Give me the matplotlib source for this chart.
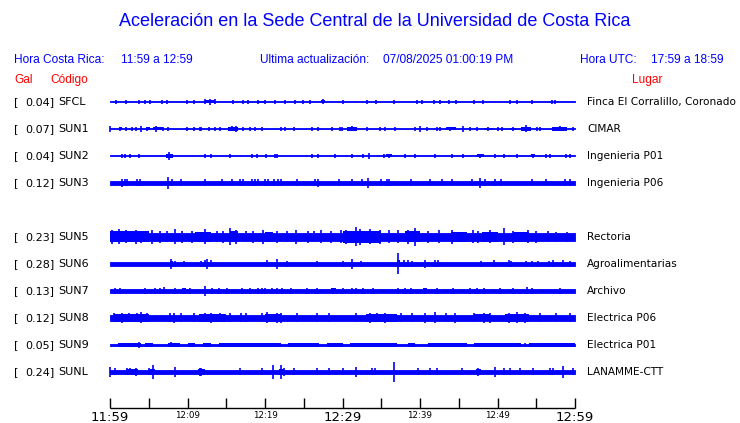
import matplotlib
matplotlib.use("Agg")
import matplotlib.pyplot as plt

# ---------------- data ----------------
title = "Aceleración en la Sede Central de la Universidad de Costa Rica"
hora_cr_lbl, hora_cr_val = "Hora Costa Rica:", "11:59 a 12:59"
ultima_lbl, ultima_val = "Ultima actualización:", "07/08/2025 01:00:19 PM"
hora_utc_lbl, hora_utc_val = "Hora UTC:", "17:59 a 18:59"

codes = ["SFCL", "SUN1", "SUN2", "SUN3", "SUN5", "SUN6", "SUN7", "SUN8", "SUN9", "SUNL"]
gal = ["0.04", "0.07", "0.04", "0.12", "0.23", "0.28", "0.13", "0.12", "0.05", "0.24"]
places = ["Finca El Corralillo, Coronado", "CIMAR", "Ingenieria P01", "Ingenieria P06",
          "Rectoria", "Agroalimentarias", "Archivo", "Electrica P06", "Electrica P01", "LANAMME-CTT"]
slots = [0, 1, 2, 3, 5, 6, 7, 8, 9, 10]   # row index (row 4 = SUN4, empty)

# trace half-width (screen px) of the background noise band
base_amp = [0.5, 0.5, 0.5, 2.0, 4.0, 2.0, 1.8, 2.7, 0.8, 2.2]

# spikes: (minute after 11:59, half amplitude in px)
spikes = {
    "SFCL": [(0.8, 2), (2.0, 2), (3.8, 2), (4.5, 2), (5.2, 2), (6.7, 2), (7.3, 2), (9.9, 2.2),
             (10.9, 2.2), (12.3, 2.5), (12.9, 3), (13.5, 2.5), (15.9, 2.2), (17.2, 2.2), (17.8, 2),
             (19.1, 2.2), (20.0, 2.2), (21.3, 2.2), (22.6, 2), (23.9, 2), (24.9, 2), (25.8, 2),
             (27.5, 2.5), (30.1, 2), (33.1, 2), (34.3, 2), (36.7, 2), (39.6, 2.2), (40.3, 2.2),
             (41.8, 2), (42.6, 2), (43.8, 2), (44.7, 2.2), (47.0, 2.2), (48.1, 2), (51.6, 2),
             (52.5, 2), (54.4, 2), (57.0, 2.2), (57.4, 2)],
    "SUN1": [(0.0, 3), (1.3, 2.2), (2.0, 2), (2.8, 2), (3.4, 2), (4.0, 3), (4.8, 2.2), (5.9, 3),
             (6.9, 2.2), (7.5, 2), (9.9, 2.2), (10.8, 2), (11.6, 2), (11.8, 2), (12.8, 2.2),
             (13.5, 2), (14.2, 2), (15.8, 2.5), (16.3, 3), (17.2, 2), (18.1, 2), (18.7, 2),
             (19.6, 2), (22.0, 2.2), (22.6, 2), (23.7, 2), (26.0, 2), (26.9, 2), (28.6, 2),
             (29.7, 2), (29.9, 2), (31.2, 2.5), (33.1, 2), (34.8, 2), (35.5, 2), (36.8, 2),
             (39.4, 2), (40.0, 3), (40.9, 2), (42.2, 2), (42.6, 2), (43.9, 2.2), (45.5, 3),
             (46.5, 2), (47.3, 2), (48.8, 2.2), (50.0, 2), (50.6, 2), (52.0, 2.2), (53.7, 3.5),
             (55.1, 2), (55.5, 2), (58.0, 2.5), (59.8, 2)],
    "SUN2": [(1.6, 2), (1.9, 2), (2.6, 1.8), (3.8, 2), (7.6, 4), (12.3, 2), (13.0, 2), (15.5, 1.8),
             (18.3, 2), (19.0, 1.8), (20.1, 2), (21.3, 1.8), (21.6, 1.8), (26.0, 2), (26.9, 2),
             (29.0, 1.8), (31.2, 1.8), (32.6, 1.8), (33.4, 3), (35.4, 1.8), (36.0, 2.2), (38.1, 2),
             (39.4, 1.8), (41.9, 2), (44.1, 1.8), (45.6, 1.8), (47.8, 2.2), (49.7, 2), (50.8, 1.8),
             (52.5, 1.8), (54.6, 2.2), (56.3, 2), (56.8, 2), (58.9, 2), (59.3, 2)],
    "SUN3": [(1.6, 4), (1.9, 3.5), (2.2, 3.5), (3.5, 3.5), (3.9, 3.5), (7.5, 6), (8.0, 3.5),
             (9.2, 3.5), (12.3, 3.5), (14.4, 3.5), (15.7, 3.5), (16.8, 3.5), (17.2, 3.5),
             (18.3, 3.5), (18.7, 3.5), (19.1, 3.5), (20.0, 3.5), (20.4, 3.5), (21.2, 3.5),
             (21.7, 3.5), (22.1, 3.5), (24.1, 3.5), (26.4, 3.5), (26.9, 4), (29.5, 3.5),
             (31.2, 3.5), (32.5, 3.5), (33.3, 5), (35.0, 3.5), (35.7, 3.5), (36.0, 3.5),
             (38.9, 3.5), (41.3, 3.5), (42.8, 3.5), (44.1, 3.5), (46.7, 3.5), (47.7, 5),
             (48.4, 3.5), (49.7, 3.5), (50.5, 3.5), (54.4, 3.5), (56.3, 3.5), (58.7, 3.5),
             (59.3, 3.5)],
    "SUN5": [(0.3, 7), (1.2, 7.5), (2.0, 6.5), (3.4, 7), (4.0, 6), (5.4, 7), (6.5, 6), (7.3, 5.5),
             (8.4, 7.5), (9.3, 6), (10.6, 6), (12.2, 7.5), (13.8, 5.5), (14.6, 6), (15.5, 8.5),
             (16.2, 7), (17.5, 5.5), (18.5, 6), (19.7, 7), (21.5, 6), (22.8, 5.5), (24.0, 7),
             (25.5, 6), (26.3, 5.5), (27.2, 6.5), (28.5, 6), (29.8, 6.5), (30.5, 7), (31.7, 9.5),
             (32.3, 8), (33.5, 7.5), (34.8, 7), (36.0, 6.5), (37.2, 6.5), (38.5, 7), (39.4, 9),
             (41.0, 6), (42.5, 6.5), (44.1, 7), (46.8, 6.5), (47.5, 6), (49.0, 6.5), (50.8, 8.5),
             (52.0, 6), (53.9, 6.5), (55.0, 6), (56.5, 5.5), (57.5, 5), (59.0, 5)],
    "SUN6": [(7.9, 5), (8.4, 3), (9.5, 3), (11.8, 3), (12.2, 3.5), (12.5, 5), (13.0, 3.5),
             (20.3, 3.5), (21.5, 5), (22.8, 3), (26.7, 3), (30.1, 3), (31.2, 5), (32.4, 3),
             (37.2, 10.5), (37.9, 3.5), (38.5, 3.5), (39.0, 3), (40.6, 4), (41.9, 3.5), (42.3, 3.5),
             (47.9, 3), (49.6, 3.5), (51.5, 3.5), (51.8, 3), (53.7, 3), (54.4, 3), (55.2, 3),
             (56.6, 3), (57.2, 3.5), (58.5, 3.5), (59.3, 3)],
    "SUN7": [(0.65, 3), (1.3, 3), (4.5, 2.8), (5.8, 3), (6.5, 3), (7.0, 3.5), (8.4, 3), (9.5, 3),
             (10.3, 3), (12.3, 5), (13.1, 3), (14.0, 2.8), (15.1, 2.8), (17.0, 2.8), (18.1, 2.8),
             (19.1, 3), (19.6, 3), (20.0, 3), (20.9, 3), (21.5, 3), (22.2, 3), (23.4, 2.8),
             (25.4, 2.8), (26.7, 2.8), (28.8, 3), (30.1, 2.8), (31.2, 3), (31.7, 2.8), (32.7, 2.8),
             (33.9, 3), (37.2, 2.8), (38.1, 2.8), (38.8, 2.8), (40.6, 3), (42.2, 2.8), (44.3, 2.8),
             (46.5, 2.8), (47.3, 3), (48.2, 3), (50.3, 3), (52.0, 3), (53.8, 3.5), (54.5, 2.8),
             (58.0, 3)],
    "SUN8": [(0.5, 4.5), (1.5, 5), (2.5, 4.5), (3.5, 4.5), (4.0, 5.5), (4.8, 4.5), (7.8, 4.5),
             (8.2, 5), (9.2, 4.5), (10.8, 4.5), (12.3, 4.5), (13.0, 5), (14.2, 4.5), (15.5, 4.5),
             (16.9, 4.5), (17.5, 4.5), (19.6, 4.5), (20.3, 5.5), (21.5, 5), (22.1, 5), (24.1, 4.5),
             (26.7, 4.5), (28.2, 4.5), (31.7, 4.5), (33.5, 5), (34.5, 4.5), (35.5, 5), (37.5, 4.5),
             (39.0, 4.5), (40.6, 5), (41.9, 5.5), (43.3, 4.5), (44.5, 5), (47.0, 4.5), (48.2, 5),
             (49.0, 5), (51.5, 5), (52.5, 5.5), (53.5, 5), (55.5, 4.5), (57.5, 4.5), (59.3, 4.5)],
    "SUN9": [(3.8, 3), (7.9, 2.5), (12.2, 2.3), (19.5, 2.3), (26.5, 2.3), (34.4, 2.3), (44.0, 2.3),
             (53.5, 2.3)],
    "SUNL": [(0.0, 5), (0.65, 3.5), (2.2, 3.5), (2.6, 3.5), (3.4, 4), (5.0, 3.5), (5.5, 7),
             (8.4, 5), (11.6, 4), (11.8, 4), (16.8, 3.5), (19.6, 3.5), (21.0, 7), (22.0, 7),
             (22.4, 4), (23.7, 3.5), (26.7, 3.5), (28.2, 3.5), (30.1, 3.5), (31.7, 5), (33.8, 3.5),
             (34.2, 3.5), (36.6, 10), (39.8, 3.5), (41.3, 3.5), (42.2, 3.5), (45.4, 3.5), (47.5, 4),
             (49.7, 5), (50.8, 3.5), (51.6, 3.5), (52.9, 3.5), (54.6, 3.5), (56.8, 3.5), (57.2, 3.5),
             (58.5, 6), (59.8, 3.5)],
}

# thicker noisy stretches: (start minute, end minute, half amplitude px)
bursts = {
    "SFCL": [(12.3, 13.5, 1.5), (19.1, 20.0, 1.3), (27.2, 27.8, 1.5)],
    "SUN1": [(1.1, 1.6, 1.5), (4.6, 5.1, 1.5), (5.6, 6.9, 1.5), (9.7, 10.2, 1.4), (15.2, 16.5, 1.6),
             (30.6, 31.9, 1.6), (43.3, 44.6, 1.5), (48.3, 49.4, 1.4), (51.6, 52.4, 1.4),
             (53.0, 54.3, 1.6), (57.0, 59.0, 1.6)],
    "SUN2": [(7.2, 8.1, 2.0), (35.6, 36.4, 1.5), (47.4, 48.2, 1.5), (54.3, 54.9, 1.5)],
    "SUN5": [(0, 5, 5.5), (11, 13, 5), (15.5, 16.5, 5.5), (20, 21, 5), (30, 35, 6), (38, 40, 5.5),
             (44, 46, 5), (48, 50, 5), (52, 54, 5)],
    "SUN6": [(7.7, 8.1, 3.0), (37.0, 37.4, 3.5)],
    "SUN7": [(9.3, 9.8, 2.5), (28.5, 29.1, 2.5), (40.4, 40.9, 2.5)],
    "SUN8": [(0.5, 5, 3.8), (11.5, 15, 3.6), (20, 22, 3.6), (33, 37, 3.6), (47, 49, 3.5), (51, 54, 3.8)],
    "SUN9": [(1, 4, 1.7), (4.5, 5.5, 1.8), (7.5, 9, 1.8), (10, 11, 1.6), (12, 13, 1.6), (14, 22, 1.6),
             (23, 27, 1.6), (28, 30, 1.6), (31, 37, 1.6), (38.5, 39.4, 1.6), (41, 46, 1.7),
             (47, 53, 1.7), (54, 60, 1.7)],
    "SUNL": [(2.0, 3.6, 3.0), (5.2, 5.8, 3.0), (11.3, 12.2, 3.0), (21.8, 22.5, 3.0), (47.2, 47.9, 3.0)],
}

tick_minutes = [0, 5, 10, 15, 20, 25, 30, 35, 40, 45, 50, 55, 60]
label_minutes = [0, 10, 20, 30, 40, 50, 60]
label_texts = ["11:59", "12:09", "12:19", "12:29", "12:39", "12:49", "12:59"]
label_big = [True, False, False, True, False, False, True]

# ---------------- figure ----------------
W, H = 740, 423
BLUE = "#0000FF"
RED = "#FF0000"
fig = plt.figure(figsize=(W / 100, H / 100), dpi=100)
fig.patch.set_facecolor("white")

# text layer in pixel coordinates
axt = fig.add_axes([0, 0, 1, 1])
axt.set_xlim(0, W)
axt.set_ylim(H, 0)
axt.axis("off")

sans = ["Liberation Sans", "DejaVu Sans"]
hs = 8.6
axt.text(375, 22, title, color=BLUE, fontsize=13, family=sans, ha="center", va="center")
axt.text(14, 60, hora_cr_lbl, color=BLUE, fontsize=hs, family=sans, ha="left", va="center")
axt.text(193, 60, hora_cr_val, color=BLUE, fontsize=hs, family=sans, ha="right", va="center")
axt.text(260, 60, ultima_lbl, color=BLUE, fontsize=hs, family=sans, ha="left", va="center")
axt.text(513, 60, ultima_val, color=BLUE, fontsize=hs, family=sans, ha="right", va="center")
axt.text(580, 60, hora_utc_lbl, color=BLUE, fontsize=hs, family=sans, ha="left", va="center")
axt.text(724, 60, hora_utc_val, color=BLUE, fontsize=hs, family=sans, ha="right", va="center")
axt.text(14, 80, "Gal", color=RED, fontsize=hs, family=sans, ha="left", va="center")
axt.text(50, 80, "Código", color=RED, fontsize=hs, family=sans, ha="left", va="center")
axt.text(662, 80, "Lugar", color=RED, fontsize=hs, family=sans, ha="right", va="center")

ROW0, DROW = 102, 27
for code, g, place, s in zip(codes, gal, places, slots):
    y = ROW0 + DROW * s
    axt.text(14, y, "[", fontsize=8, family="DejaVu Sans", ha="left", va="center")
    axt.text(54, y, g + "]", fontsize=8, family="DejaVu Sans", ha="right", va="center")
    axt.text(58, y, code, fontsize=8, family="DejaVu Sans", ha="left", va="center")
    axt.text(587, y, place, fontsize=7.6, family="DejaVu Sans", ha="left", va="center")

# trace layer: x in minutes, y in pixels
ax = fig.add_axes([110 / W, 0, 465 / W, 1])
ax.set_xlim(0, 60)
ax.set_ylim(H, 0)
ax.axis("off")

for code, b, s in zip(codes, base_amp, slots):
    y = ROW0 + DROW * s
    ax.fill_between([0, 60], y - b, y + b, color=BLUE, lw=0.6, clip_on=False)
    for (m0, m1, a) in bursts.get(code, []):
        ax.fill_between([m0, m1], y - a, y + a, color=BLUE, lw=0, clip_on=False)
    for (m, a) in spikes.get(code, []):
        ax.vlines(m, y - a, y + a, color=BLUE, lw=1.2, clip_on=False)

# time axis
ax.hlines(408, 0, 60, color="black", lw=1.0, clip_on=False)
ax.vlines(tick_minutes, 398, 408, color="black", lw=1.0, clip_on=False)
for m, t, big in zip(label_minutes, label_texts, label_big):
    if big:
        ax.text(m, 421, t, fontsize=9.5, family="DejaVu Sans", ha="center", va="baseline")
    else:
        ax.text(m, 418, t, fontsize=6.3, family="DejaVu Sans", ha="center", va="baseline")

fig.savefig("out.png", dpi=100, facecolor="white")
